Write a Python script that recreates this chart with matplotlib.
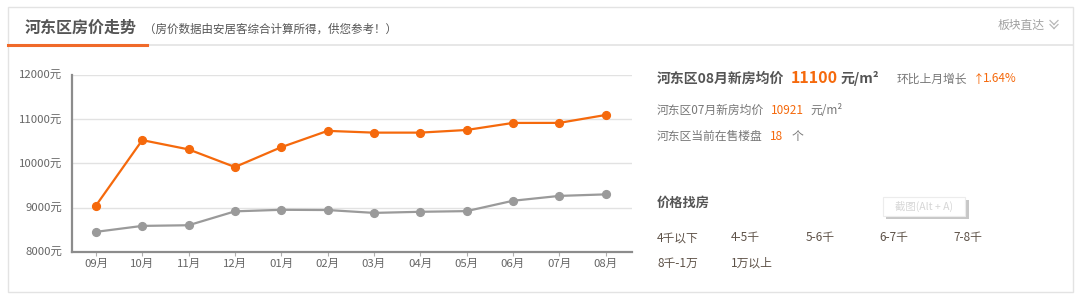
import matplotlib
matplotlib.use("Agg")
import matplotlib.pyplot as plt
from matplotlib.patches import Rectangle
from matplotlib.lines import Line2D

plt.rcParams['font.family'] = ['Noto Sans CJK SC', 'DejaVu Sans']

months = ["09月", "10月", "11月", "12月", "01月", "02月", "03月", "04月", "05月", "06月", "07月", "08月"]
district_price = [9045, 10530, 10320, 9920, 10370, 10740, 10700, 10700, 10760, 10920, 10921, 11100]
city_price = [8450, 8585, 8600, 8915, 8950, 8945, 8880, 8905, 8920, 9155, 9265, 9300]
y_ticks = [8000, 9000, 10000, 11000, 12000]
y_labels = [f"{v}元" for v in y_ticks]

price_ranges_row1 = ["4千以下", "4-5千", "5-6千", "6-7千", "7-8千"]
price_ranges_row2 = ["8千-1万", "1万以上"]

W, H = 1080, 302
ORANGE = "#f5690c"
GREY_LINE = "#9a9a9a"
TEXT_DARK = "#555555"
TEXT_MID = "#777777"

fig = plt.figure(figsize=(W / 100, H / 100), dpi=100)
fig.patch.set_facecolor("white")


def fx(x):
    return x / W


def fy(y):
    return 1 - y / H


def ftext(x, y, s, **kw):
    kw.setdefault("va", "center")
    kw.setdefault("ha", "left")
    return fig.text(fx(x), fy(y), s, **kw)


def fline(x0, y0, x1, y1, **kw):
    fig.add_artist(Line2D([fx(x0), fx(x1)], [fy(y0), fy(y1)], transform=fig.transFigure, **kw))


def frect(x0, y0, x1, y1, **kw):
    fig.add_artist(Rectangle((fx(x0), fy(y1)), fx(x1) - fx(x0), fy(y0) - fy(y1),
                             transform=fig.transFigure, **kw))


# outer panel frame
frect(7.5, 6.5, 1072.5, 292, facecolor="white", edgecolor="#e3e3e3", linewidth=1, zorder=0)
# header rule and active tab underline
fline(7.5, 45, 1072.5, 45, color="#e3e3e3", linewidth=1.2)
fline(8, 45, 147, 45, color="#f06a2a", linewidth=2.2)

ftext(25, 28, "河东区房价走势", fontsize=11.5, fontweight="bold", color=TEXT_DARK)
ftext(144, 29, "（房价数据由安居客综合计算所得，供您参考！）", fontsize=8.3, color=TEXT_DARK)
ftext(998, 25, "板块直达", fontsize=8.5, color="#a0a0a0")
# double chevron
for dy in (0, 4):
    fline(1050, 20.5 + dy, 1054, 24.5 + dy, color="#b8b8b8", linewidth=0.9)
    fline(1054, 24.5 + dy, 1058, 20.5 + dy, color="#b8b8b8", linewidth=0.9)

# line chart
ax_left, ax_right, ax_top, ax_bottom = 72.3, 632, 75.3, 251.7
ax = fig.add_axes([fx(ax_left), fy(ax_bottom), fx(ax_right) - fx(ax_left), fy(ax_top) - fy(ax_bottom)])
x = list(range(len(months)))
ax.plot(x, city_price, color=GREY_LINE, linewidth=1.6, marker="o", markersize=5.6, zorder=3)
ax.plot(x, district_price, color=ORANGE, linewidth=1.6, marker="o", markersize=5.6, zorder=4)
ax.set_ylim(8000, 12000)
ax.set_xlim(-0.51, 11.57)
ax.set_yticks(y_ticks)
ax.set_yticklabels(y_labels)
ax.set_xticks(x)
ax.set_xticklabels(months)
ax.grid(axis="y", color="#e2e2e2", linewidth=1)
ax.set_axisbelow(True)
for side in ("top", "right"):
    ax.spines[side].set_visible(False)
for side in ("left", "bottom"):
    ax.spines[side].set_color("#8c8c8c")
    ax.spines[side].set_linewidth(1.6)
ax.tick_params(axis="y", length=0, pad=7, labelsize=8.2, labelcolor="#666666")
ax.tick_params(axis="x", length=3, width=0.8, color="#b0b0b0", pad=2.5, labelsize=8.2, labelcolor="#666666")

# summary panel
ftext(657, 79, "河东区08月新房均价", fontsize=10, fontweight="bold", color=TEXT_DARK)
ftext(791, 78, "11100", fontsize=11.5, fontweight="bold", color=ORANGE)
ftext(841, 79, "元/m²", fontsize=10, fontweight="bold", color=TEXT_DARK)
ftext(897, 79, "环比上月增长", fontsize=8.5, color=TEXT_MID)
ftext(973, 79, "↑", fontsize=8.5, color=ORANGE)
ftext(983, 79, "1.64%", fontsize=8.5, color=ORANGE)

ftext(657, 110, "河东区07月新房均价", fontsize=8.5, color=TEXT_MID)
ftext(771, 110, "10921", fontsize=8.5, color=ORANGE)
ftext(810, 110, "元/m²", fontsize=8.5, color=TEXT_MID)

ftext(657, 136.5, "河东区当前在售楼盘", fontsize=8.5, color=TEXT_MID)
ftext(770, 136.5, "18", fontsize=8.5, color=ORANGE)
ftext(792, 136.5, "个", fontsize=8.5, color=TEXT_MID)

ftext(657, 203, "价格找房", fontsize=9.5, fontweight="bold", color=TEXT_DARK)
row1_x = [657, 731, 805.5, 879, 953]
for xx, s in zip(row1_x, price_ranges_row1):
    ftext(xx, 238, s, fontsize=8.5, color="#5e5248")
row2_x = [657, 731]
for xx, s in zip(row2_x, price_ranges_row2):
    ftext(xx, 263.5, s, fontsize=8.5, color="#5e5248")

# screenshot hint tooltip
frect(886, 200, 969, 219, facecolor="#9a9a9a", edgecolor="none", alpha=0.55, zorder=5)
frect(883, 197, 965, 216, facecolor="white", edgecolor="#ececec", linewidth=0.8, zorder=6)
ftext(924, 206.5, "截图(Alt + A)", fontsize=7.5, color="#d6d6d6", ha="center", zorder=7)

fig.savefig("out.png", dpi=100, facecolor="white")
